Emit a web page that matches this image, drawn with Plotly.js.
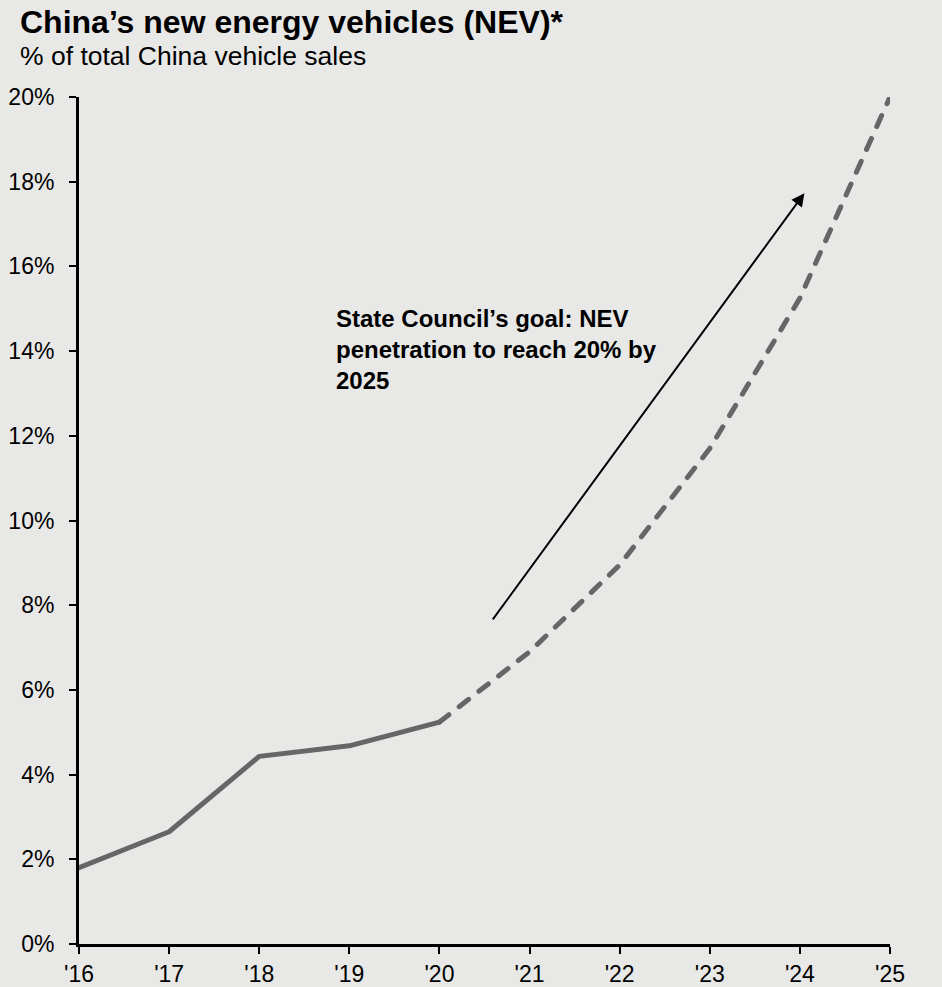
<!DOCTYPE html>
<html>
<head>
<meta charset="utf-8">
<script src="https://cdn.plot.ly/plotly-3.0.1.min.js"></script>
<style>
html, body { margin: 0; padding: 0; background: #e8e8e7; }
#chart { width: 942px; height: 987px; }
.js-line { stroke-linecap: round; stroke-linejoin: round; }
</style>
</head>
<body>
<div id="chart"></div>
<script>
const years = [2016, 2017, 2018, 2019, 2020, 2021, 2022, 2023, 2024, 2025];
const tickLabels = ["'16", "'17", "'18", "'19", "'20", "'21", "'22", "'23", "'24", "'25"];
const actualYears = [2016, 2017, 2018, 2019, 2020];
const actualShare = [1.8, 2.65, 4.43, 4.68, 5.24];
const forecastYears = [2020, 2021, 2022, 2023, 2024, 2025];
const forecastShare = [5.24, 6.9, 8.95, 11.7, 15.25, 20.0];
const yTicks = [0, 2, 4, 6, 8, 10, 12, 14, 16, 18, 20];
const yTickLabels = yTicks.map(v => v + '%');

const W = 942, H = 987;
const m = {l: 79, r: 52, t: 97, b: 43};
const pw = W - m.l - m.r, ph = H - m.t - m.b;
const px = x => (x - m.l) / pw;
const py = y => (H - m.b - y) / ph;

const font = 'Arial, "Liberation Sans", sans-serif';

const traces = [
  {x: actualYears, y: actualShare, mode: 'lines', type: 'scatter',
   line: {color: '#666666', width: 5}, hoverinfo: 'skip'},
  {x: forecastYears, y: forecastShare, mode: 'lines', type: 'scatter',
   line: {color: '#666666', width: 5, dash: '12px,13px'}, hoverinfo: 'skip'}
];

const layout = {
  width: W, height: H,
  margin: m,
  paper_bgcolor: '#e8e8e7',
  plot_bgcolor: '#e8e8e7',
  showlegend: false,
  font: {family: font, color: '#000', size: 23},
  xaxis: {
    range: [2016, 2025], tickvals: years, ticktext: tickLabels,
    showgrid: false, zeroline: false, showline: true, linecolor: '#000', linewidth: 3,
    ticks: 'outside', ticklen: 7, tickwidth: 2, tickcolor: '#000',
    tickfont: {size: 23, family: font}, fixedrange: true
  },
  yaxis: {
    range: [0, 20], tickvals: yTicks, ticktext: yTickLabels,
    showgrid: false, zeroline: false, showline: true, linecolor: '#000', linewidth: 3,
    ticks: 'outside', ticklen: 7, tickwidth: 2, tickcolor: '#000', ticklabelstandoff: 10,
    tickfont: {size: 23, family: font}, fixedrange: true
  },
  annotations: [
    {xref: 'paper', yref: 'paper', x: px(18), y: py(22), xanchor: 'left', yanchor: 'middle',
     text: '<b>China’s new energy vehicles (NEV)*</b>', showarrow: false,
     font: {size: 32, family: font, color: '#000'}},
    {xref: 'paper', yref: 'paper', x: px(18), y: py(56), xanchor: 'left', yanchor: 'middle',
     text: '% of total China vehicle sales', showarrow: false,
     font: {size: 26.5, family: font, color: '#000'}},
    {xref: 'paper', yref: 'paper', x: px(334), y: py(303), xanchor: 'left', yanchor: 'top', align: 'left',
     text: '<b>State Council’s goal: NEV<br>penetration to reach 20% by<br>2025</b>', showarrow: false,
     font: {size: 24, family: font, color: '#000'}},
    {x: 2024.05, y: 17.73, ax: 2020.58, ay: 7.63, xref: 'x', yref: 'y', axref: 'x', ayref: 'y',
     text: '', showarrow: true, arrowhead: 2, arrowsize: 1.3, arrowwidth: 2, arrowcolor: '#000'}
  ]
};

Plotly.newPlot('chart', traces, layout, {staticPlot: true, displayModeBar: false});
</script>
</body>
</html>
